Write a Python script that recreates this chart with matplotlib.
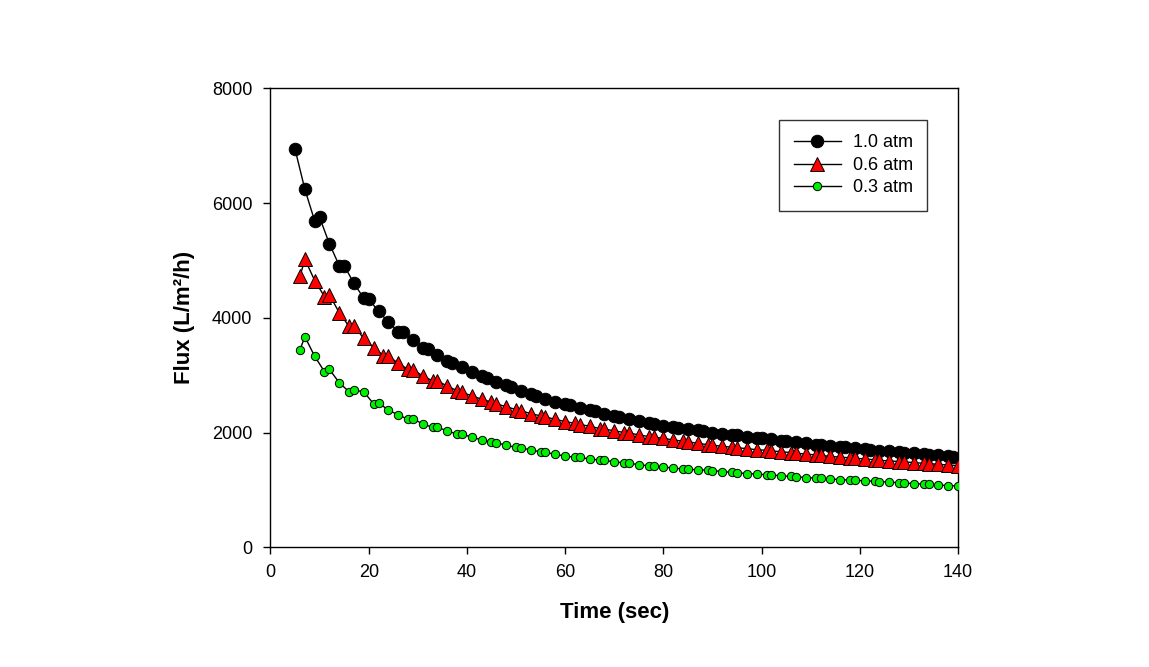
import matplotlib
matplotlib.use("Agg")
import matplotlib.pyplot as plt

plt.rcParams['font.family'] = ['Liberation Sans', 'DejaVu Sans']

# ---- data ----
t_10 = [5, 7, 9, 10, 12, 14, 15, 17, 19, 20, 22, 24, 26, 27, 29, 31, 32, 34, 36, 37,
        39, 41, 43, 44, 46, 48, 49, 51, 53, 54, 56, 58, 60, 61, 63, 65, 66, 68, 70, 71,
        73, 75, 77, 78, 80, 82, 83, 85, 87, 88, 90, 92, 94, 95, 97, 99, 100, 102, 104, 105,
        107, 109, 111, 112, 114, 116, 117, 119, 121, 122, 124, 126, 128, 129, 131, 133, 134, 136, 138, 139]
flux_10 = [6940, 6240, 5690, 5750, 5290, 4910, 4910, 4600, 4340, 4330, 4110, 3930, 3760, 3750, 3610, 3470, 3460, 3350, 3240, 3210,
           3140, 3060, 2990, 2950, 2880, 2820, 2790, 2720, 2670, 2640, 2590, 2540, 2500, 2480, 2430, 2390, 2370, 2330, 2290, 2270,
           2230, 2200, 2170, 2150, 2120, 2090, 2080, 2060, 2040, 2020, 2000, 1980, 1960, 1950, 1930, 1910, 1900, 1880, 1860, 1850,
           1830, 1810, 1790, 1780, 1765, 1750, 1740, 1725, 1710, 1700, 1685, 1670, 1655, 1650, 1635, 1620, 1615, 1600, 1590, 1580]

t_06 = [6, 7, 9, 11, 12, 14, 16, 17, 19, 21, 23, 24, 26, 28, 29, 31, 33, 34, 36, 38,
        39, 41, 43, 45, 46, 48, 50, 51, 53, 55, 56, 58, 60, 62, 63, 65, 67, 68, 70, 72,
        73, 75, 77, 78, 80, 82, 84, 85, 87, 89, 90, 92, 94, 95, 97, 99, 101, 102, 104, 106,
        107, 109, 111, 112, 114, 116, 118, 119, 121, 123, 124, 126, 128, 129, 131, 133, 134, 136, 138, 140]
flux_06 = [4720, 5020, 4650, 4370, 4400, 4090, 3850, 3860, 3640, 3480, 3340, 3330, 3210, 3100, 3090, 2990, 2900, 2900, 2810, 2730,
           2700, 2640, 2580, 2530, 2500, 2450, 2400, 2380, 2330, 2290, 2270, 2230, 2190, 2160, 2140, 2110, 2070, 2060, 2030, 2000,
           1990, 1960, 1930, 1920, 1900, 1870, 1850, 1840, 1810, 1790, 1780, 1760, 1745, 1735, 1720, 1700, 1690, 1680, 1665, 1650,
           1640, 1625, 1610, 1600, 1585, 1570, 1560, 1550, 1540, 1525, 1515, 1505, 1495, 1490, 1475, 1465, 1460, 1445, 1435, 1420]

t_03 = [6, 7, 9, 11, 12, 14, 16, 17, 19, 21, 22, 24, 26, 28, 29, 31, 33, 34, 36, 38,
        39, 41, 43, 45, 46, 48, 50, 51, 53, 55, 56, 58, 60, 62, 63, 65, 67, 68, 70, 72,
        73, 75, 77, 78, 80, 82, 84, 85, 87, 89, 90, 92, 94, 95, 97, 99, 101, 102, 104, 106,
        107, 109, 111, 112, 114, 116, 118, 119, 121, 123, 124, 126, 128, 129, 131, 133, 134, 136, 138, 140]
flux_03 = [3440, 3670, 3330, 3060, 3100, 2870, 2710, 2740, 2710, 2500, 2520, 2390, 2310, 2230, 2240, 2150, 2090, 2090, 2030, 1970,
           1970, 1920, 1870, 1830, 1820, 1780, 1740, 1730, 1700, 1660, 1655, 1620, 1590, 1570, 1565, 1540, 1520, 1515, 1490, 1470,
           1465, 1440, 1420, 1415, 1400, 1380, 1365, 1360, 1350, 1345, 1335, 1320, 1305, 1300, 1285, 1275, 1265, 1260, 1245, 1235,
           1230, 1215, 1205, 1200, 1190, 1180, 1170, 1165, 1160, 1150, 1145, 1135, 1125, 1120, 1110, 1100, 1095, 1085, 1075, 1068]

labels = ['1.0 atm', '0.6 atm', '0.3 atm']
x_ticks = [0, 20, 40, 60, 80, 100, 120, 140]
y_ticks = [0, 2000, 4000, 6000, 8000]

# ---- figure ----
fig = plt.figure(figsize=(11.49, 6.67), dpi=100)
ax = fig.add_axes([0.2354, 0.1795, 0.5984, 0.6881])

ax.plot(t_10, flux_10, '-', color='black', lw=1.0, marker='o', ms=9,
        mfc='black', mec='black', mew=0.7, label=labels[0], zorder=3)
ax.plot(t_06, flux_06, '-', color='black', lw=1.0, marker='^', ms=9.5,
        mfc='#ff0000', mec='black', mew=0.7, label=labels[1], zorder=3)
ax.plot(t_03, flux_03, '-', color='black', lw=1.0, marker='o', ms=6,
        mfc='#00ee00', mec='black', mew=0.7, label=labels[2], zorder=3)

ax.set_xlim(0, 140)
ax.set_ylim(0, 8000)
ax.set_xticks(x_ticks)
ax.set_yticks(y_ticks)
ax.tick_params(axis='both', direction='out', length=5, width=1, labelsize=13)
ax.tick_params(axis='x', pad=7)
ax.tick_params(axis='y', pad=8)
for s in ax.spines.values():
    s.set_linewidth(1.0)

ax.set_xlabel('Time (sec)', fontsize=16, fontweight='bold', labelpad=15)
ax.set_ylabel('Flux (L/m²/h)', fontsize=16, fontweight='bold', labelpad=12)

leg = ax.legend(loc='upper right', bbox_to_anchor=(0.955, 0.931), borderaxespad=0,
                frameon=True, fancybox=False, fontsize=13, handlelength=2.6,
                handletextpad=0.65, labelspacing=0.3, borderpad=0.8)
leg.get_frame().set_edgecolor('black')
leg.get_frame().set_linewidth(1.0)

fig.savefig('out.png', dpi=100)
